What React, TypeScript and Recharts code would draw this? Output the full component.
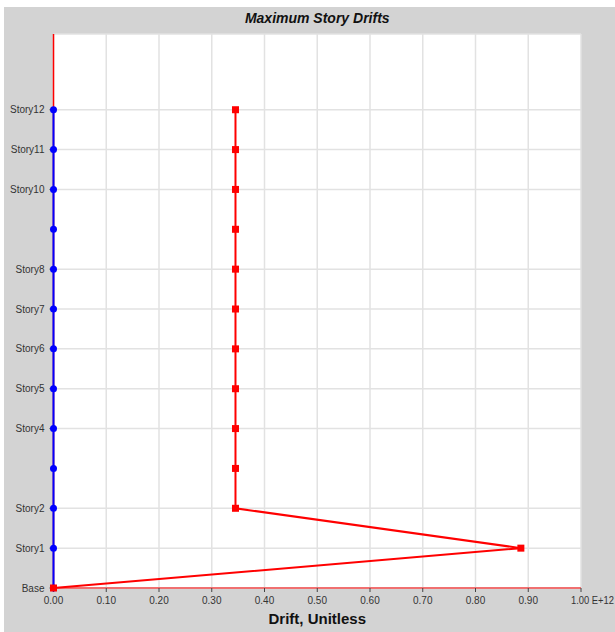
import { CartesianGrid, ReferenceLine, Scatter, ScatterChart, XAxis, YAxis } from 'recharts'

// story levels, bottom to top (Story3 and Story9 are not labelled in the chart)
const storyNames = ['Base', 'Story1', 'Story2', 'Story3', 'Story4', 'Story5', 'Story6', 'Story7', 'Story8', 'Story9', 'Story10', 'Story11', 'Story12']
const labelledStories = ['Base', 'Story1', 'Story2', 'Story4', 'Story5', 'Story6', 'Story7', 'Story8', 'Story10', 'Story11', 'Story12']

// drift values, E+12
const blueDrift = [0, 0, 0, 0, 0, 0, 0, 0, 0, 0, 0, 0, 0]
const redDrift = [0, 0.886, 0.345, 0.345, 0.345, 0.345, 0.345, 0.345, 0.345, 0.345, 0.345, 0.345, 0.345]

const xTicks = [0, 0.1, 0.2, 0.3, 0.4, 0.5, 0.6, 0.7, 0.8, 0.9, 1.0]

const blueData = storyNames.map((name, i) => ({ story: name, level: i, drift: blueDrift[i] }))
const redData = storyNames.map((name, i) => ({ story: name, level: i, drift: redDrift[i] }))
const yTicks = labelledStories.map((s) => storyNames.indexOf(s))

const FONT = '"Liberation Sans", Arial, sans-serif'

function Dot(props: any) {
  const { cx, cy } = props
  return <circle cx={cx} cy={cy} r={3.5} fill="#0000ff" />
}

function Square(props: any) {
  const { cx, cy } = props
  return <rect x={cx - 3.5} y={cy - 3.5} width={7} height={7} fill="#ff0000" />
}

function XTick(props: any) {
  const { x, y, payload } = props
  const v = payload.value as number
  if (v === 1) {
    // last label carries the exponent and runs to the frame edge
    return (
      <text x={x - 10} y={y + 10} style={{ fontSize: 10, fontFamily: FONT }} fill="#333"
        textAnchor="start" textLength={43} lengthAdjust="spacingAndGlyphs">
        1.00 E+12
      </text>
    )
  }
  return (
    <text x={x} y={y + 10} style={{ fontSize: 10, fontFamily: FONT }} fill="#333" textAnchor="middle">
      {v.toFixed(2)}
    </text>
  )
}

function YTick(props: any) {
  const { x, y, payload } = props
  return (
    <text x={x - 3} y={y + 3.5} style={{ fontSize: 10, fontFamily: FONT }} fill="#333" textAnchor="end">
      {storyNames[payload.value]}
    </text>
  )
}

export default function App() {
  return (
    <div style={{ position: 'absolute', left: 0, top: 0, width: 615, height: 632, background: '#ffffff' }}>
      <div style={{ position: 'absolute', left: 4, top: 7, width: 611, height: 625, background: '#d3d3d3' }}>
        <ScatterChart width={611} height={625} margin={{ top: 27, right: 34, bottom: 0, left: 0 }}>
          <CartesianGrid stroke="#e2e2e2" strokeWidth={1.5} fill="#ffffff" />
          <XAxis
            type="number"
            dataKey="drift"
            domain={[0, 1]}
            ticks={xTicks}
            height={44}
            stroke="#444"
            axisLine={false}
            tickSize={4}
            tick={<XTick />}
            interval={0}
          />
          <YAxis
            type="number"
            dataKey="level"
            domain={[0, 13.9]}
            ticks={yTicks}
            width={49.5}
            stroke="#444"
            axisLine={false}
            tickSize={4}
            tick={<YTick />}
            interval={0}
          />
          <ReferenceLine x={0} stroke="#ff0000" strokeWidth={1.5} />
          <ReferenceLine y={0} stroke="#f07070" strokeWidth={2} />
          <Scatter
            data={blueData}
            line={{ stroke: '#0000ff', strokeWidth: 2 }}
            lineType="joint"
            shape={<Dot />}
            isAnimationActive={false}
          />
          <Scatter
            data={redData}
            line={{ stroke: '#ff0000', strokeWidth: 2 }}
            lineType="joint"
            shape={<Square />}
            isAnimationActive={false}
          />
        </ScatterChart>
        <div
          style={{
            position: 'absolute', left: 49.5, width: 527.5, top: 3, textAlign: 'center',
            fontFamily: FONT, fontSize: 14, fontWeight: 'bold', fontStyle: 'italic', color: '#111',
          }}
        >
          Maximum Story Drifts
        </div>
        <div
          style={{
            position: 'absolute', left: 49.5, width: 527.5, top: 603, textAlign: 'center',
            fontFamily: FONT, fontSize: 15, fontWeight: 'bold', color: '#111',
          }}
        >
          Drift, Unitless
        </div>
      </div>
    </div>
  )
}
